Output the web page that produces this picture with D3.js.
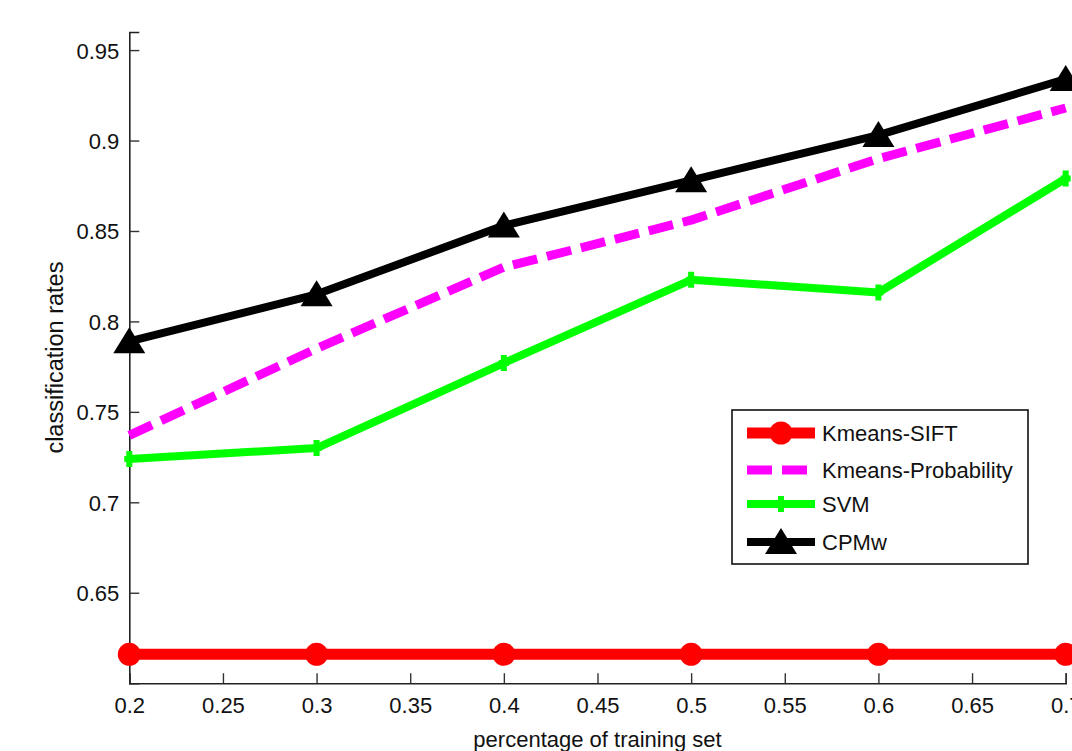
<!DOCTYPE html>
<html>
<head>
<meta charset="utf-8">
<script src="https://cdn.jsdelivr.net/npm/d3@7"></script>
<style>
  body { margin: 0; background: #fff; }
  svg { display: block; font-family: "Liberation Sans", Arial, sans-serif; }
</style>
</head>
<body>
<div id="chart"></div>
<script>
// data
var trainShare = [0.2, 0.3, 0.4, 0.5, 0.6, 0.7];
var kmeansSift = [0.616, 0.616, 0.616, 0.616, 0.616, 0.616];
var kmeansProb = [0.737, 0.785, 0.830, 0.856, 0.890, 0.918];
var svmRates   = [0.724, 0.730, 0.777, 0.823, 0.816, 0.879];
var cpmwRates  = [0.789, 0.815, 0.853, 0.878, 0.903, 0.934];
var xTicks = [0.2, 0.25, 0.3, 0.35, 0.4, 0.45, 0.5, 0.55, 0.6, 0.65, 0.7];
var yTicks = [0.65, 0.7, 0.75, 0.8, 0.85, 0.9, 0.95];

var W = 1072, H = 751;
var svg = d3.select("#chart").append("svg")
    .attr("width", W).attr("height", H);

// set the ranges
var x = d3.scaleLinear().domain([0.2, 0.7]).range([129.3, 1065.7]);
var y = d3.scaleLinear().domain([0.6, 0.96]).range([683.2, 32]);

// axes, ticks point inward like matlab
var xAxis = d3.axisBottom(x).tickValues(xTicks).tickSize(-10).tickPadding(14)
    .tickFormat(d3.format("~g"));
var yAxis = d3.axisLeft(y).tickValues(yTicks).tickSize(-10).tickPadding(10)
    .tickFormat(d3.format("~g"));

var gx = svg.append("g").attr("transform", "translate(0," + y(0.6) + ")").call(xAxis);
var gy = svg.append("g").attr("transform", "translate(" + x(0.2) + ",0)").call(yAxis);
[gx, gy].forEach(function(g) {
  g.select(".domain").attr("stroke", "#222").attr("stroke-width", 1.6);
  g.selectAll(".tick line").attr("stroke", "#333").attr("stroke-width", 1.4);
  g.selectAll("text").attr("fill", "#111").style("font-size", "22px")
    .style("font-family", "'Liberation Sans', Arial, sans-serif");
});
gy.selectAll(".tick text").attr("dy", "0.36em");

// axis titles
svg.append("text")
    .attr("x", (x(0.2) + x(0.7)) / 2).attr("y", 747)
    .attr("text-anchor", "middle").style("font-size", "22px").attr("fill", "#111")
    .text("percentage of training set");
svg.append("text")
    .attr("transform", "translate(63," + (y(0.6) + y(0.96)) / 2 + ") rotate(-90)")
    .attr("text-anchor", "middle").style("font-size", "23.5px").attr("fill", "#111")
    .text("classification rates");

// define the line
var line = d3.line()
    .x(function(d) { return x(d[0]); })
    .y(function(d) { return y(d[1]); });

var series = [
  {name: "Kmeans-SIFT", vals: kmeansSift, color: "#ff0000", width: 11, dash: null, marker: "circle"},
  {name: "Kmeans-Probability", vals: kmeansProb, color: "#ff00ff", width: 9, dash: "25,10", marker: null},
  {name: "SVM", vals: svmRates, color: "#00ff00", width: 8, dash: null, marker: "plus"},
  {name: "CPMw", vals: cpmwRates, color: "#000000", width: 8, dash: null, marker: "triangle"}
];

function drawMarker(g, type, color, cx, cy) {
  if (type === "circle") {
    g.append("circle").attr("cx", cx).attr("cy", cy).attr("r", 11.5).attr("fill", color);
  } else if (type === "triangle") {
    g.append("path")
      .attr("d", "M" + cx + "," + (cy - 14) + "L" + (cx + 16) + "," + (cy + 12) + "L" + (cx - 16) + "," + (cy + 12) + "Z")
      .attr("fill", color);
  } else if (type === "plus") {
    g.append("path")
      .attr("d", "M" + (cx - 5) + "," + cy + "H" + (cx + 5) + "M" + cx + "," + (cy - 8) + "V" + (cy + 8))
      .attr("stroke", color).attr("stroke-width", 6);
  }
}

var plot = svg.append("g");
series.forEach(function(s) {
  var pts = trainShare.map(function(t, i) { return [t, s.vals[i]]; });
  plot.append("path")
      .datum(pts)
      .attr("fill", "none")
      .attr("stroke", s.color)
      .attr("stroke-width", s.width)
      .attr("stroke-dasharray", s.dash)
      .attr("stroke-linejoin", "round")
      .attr("d", line);
  if (s.marker) {
    pts.forEach(function(p) { drawMarker(plot, s.marker, s.color, x(p[0]), y(p[1])); });
  }
});

// legend
var leg = svg.append("g");
leg.append("rect")
    .attr("x", 732).attr("y", 410).attr("width", 296).attr("height", 154)
    .attr("fill", "#fff").attr("stroke", "#111").attr("stroke-width", 1.6);
var rowY = [433, 470, 504, 542];
series.forEach(function(s, i) {
  var ly = rowY[i];
  leg.append("line")
      .attr("x1", 747).attr("x2", 815).attr("y1", ly).attr("y2", ly)
      .attr("stroke", s.color).attr("stroke-width", s.width)
      .attr("stroke-dasharray", s.dash);
  if (s.marker) drawMarker(leg, s.marker, s.color, 781, ly);
  leg.append("text")
      .attr("x", 822).attr("y", ly).attr("dy", "0.36em")
      .style("font-size", "22px").attr("fill", "#111")
      .text(s.name);
});
</script>
</body>
</html>
